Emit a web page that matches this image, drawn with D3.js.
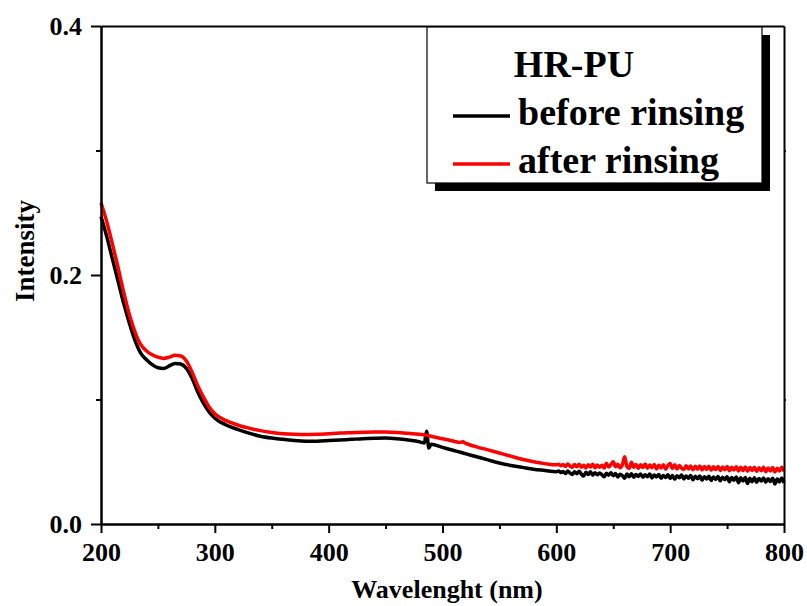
<!DOCTYPE html>
<html>
<head>
<meta charset="utf-8">
<script src="https://cdn.jsdelivr.net/npm/d3@7"></script>
<style>
  html, body { margin: 0; padding: 0; background: #fff; }
  svg text { font-family: "Liberation Serif", "Times New Roman", serif; font-weight: bold; fill: #000; }
</style>
</head>
<body>
<svg id="chart" width="807" height="606"></svg>
<script>
// Wavelength grid (nm)
const wavelengths = [
  200,205,210,215,220,225,230,235,240,245,250,255,260,265,270,275,280,285,290,295,300,
  310,320,330,340,350,360,370,380,390,400,410,420,430,440,450,460,470,480,
  484,486,488,490,500,510,515,518,520,530,540,550,560,570,580,590,600,
  602,604,606,608,610,612,614,616,618,620,622,624,626,628,630,632,634,636,638,640,
  642,644,646,648,650,652,654,656,658,660,662,664,666,668,670,672,674,676,678,680,
  682,684,686,688,690,692,694,696,698,700,702,704,706,708,710,712,714,716,718,720,
  722,724,726,728,730,732,734,736,738,740,742,744,746,748,750,752,754,756,758,760,
  762,764,766,768,770,772,774,776,778,780,782,784,786,788,790,792,794,796,798,800
];

// Intensity before rinsing
const beforeRinsing = [
  0.247,0.231,0.213,0.195,0.177,0.161,0.147,0.137,0.132,0.128,0.1255,0.125,0.127,0.129,0.1285,0.125,0.117,0.106,0.097,0.090,0.085,
  0.0795,0.0760,0.0730,0.0705,0.0690,0.0680,0.0670,0.0665,0.0665,0.0670,0.0675,0.0680,0.0685,0.0688,0.0690,0.0685,0.0675,0.0660,
  0.0650,0.0745,0.0610,0.0640,0.0615,0.0590,0.0578,0.0570,0.0565,0.0540,0.0515,0.0490,0.0470,0.0455,0.0440,0.0430,0.0420,
  0.0425,0.0413,0.0422,0.0405,0.0426,0.0410,0.0398,0.0420,0.0404,0.0423,0.0400,0.0385,0.0415,0.0398,0.0420,0.0392,0.0412,0.0395,0.0410,0.0396,
  0.0380,0.0408,0.0392,0.0412,0.0388,0.0405,0.0378,0.0400,0.0390,0.0368,0.0402,0.0380,0.0404,0.0376,0.0398,0.0382,0.0402,0.0375,0.0395,0.0380,
  0.0402,0.0370,0.0394,0.0378,0.0398,0.0368,0.0390,0.0374,0.0396,0.0366,0.0390,0.0360,0.0388,0.0372,0.0394,0.0362,0.0386,0.0368,0.0390,0.0356,
  0.0384,0.0364,0.0386,0.0352,0.0380,0.0362,0.0384,0.0350,0.0378,0.0358,0.0382,0.0348,0.0376,0.0356,0.0380,0.0340,0.0374,0.0352,0.0378,0.0332,
  0.0372,0.0346,0.0374,0.0325,0.0368,0.0340,0.0372,0.0335,0.0366,0.0345,0.0370,0.0336,0.0364,0.0342,0.0368,0.0322,0.0362,0.0338,0.0370,0.0330
];

// Intensity after rinsing
const afterRinsing = [
  0.258,0.243,0.225,0.206,0.186,0.168,0.154,0.144,0.139,0.136,0.134,0.133,0.134,0.1355,0.135,0.131,0.122,0.111,0.102,0.094,0.0885,
  0.0830,0.0795,0.0770,0.0750,0.0735,0.0725,0.0720,0.0718,0.0720,0.0725,0.0730,0.0733,0.0736,0.0738,0.0738,0.0735,0.0728,0.0720,
  0.0716,0.0714,0.0710,0.0705,0.0685,0.0665,0.0655,0.0660,0.0650,0.0620,0.0595,0.0570,0.0545,0.0520,0.0500,0.0485,0.0475,
  0.0480,0.0468,0.0478,0.0462,0.0482,0.0465,0.0455,0.0478,0.0460,0.0480,0.0456,0.0472,0.0450,0.0476,0.0458,0.0480,0.0452,0.0474,0.0456,0.0472,
  0.0450,0.0488,0.0458,0.0478,0.0500,0.0460,0.0480,0.0452,0.0476,0.0540,0.0462,0.0448,0.0496,0.0456,0.0478,0.0446,0.0476,0.0455,0.0482,0.0448,
  0.0474,0.0452,0.0478,0.0442,0.0472,0.0450,0.0476,0.0440,0.0470,0.0486,0.0446,0.0476,0.0442,0.0470,0.0448,0.0438,0.0468,0.0442,0.0466,0.0436,
  0.0464,0.0440,0.0466,0.0434,0.0462,0.0438,0.0464,0.0432,0.0460,0.0437,0.0462,0.0430,0.0458,0.0436,0.0462,0.0428,0.0456,0.0434,0.0460,0.0426,
  0.0455,0.0430,0.0458,0.0424,0.0453,0.0430,0.0456,0.0422,0.0452,0.0428,0.0455,0.0420,0.0450,0.0426,0.0454,0.0418,0.0448,0.0425,0.0456,0.0422
];

const xMajorTicks = [200, 300, 400, 500, 600, 700, 800];
const xMinorTicks = [250, 350, 450, 550, 650, 750];
const yMajorTicks = [0.0, 0.2, 0.4];
const yMinorTicks = [0.1, 0.3];

const legendTitle = "HR-PU";
const seriesNames = ["before rinsing", "after rinsing"];
const seriesColors = ["#000000", "#ff0000"];

const svg = d3.select("#chart");
const plotLeft = 101, plotRight = 784, plotTop = 26, plotBottom = 524;

const x = d3.scaleLinear().domain([200, 800]).range([plotLeft, plotRight]);
const y = d3.scaleLinear().domain([0, 0.4]).range([plotBottom, plotTop]);

// Spectra
const series = [beforeRinsing, afterRinsing];
const line = d3.line()
  .x((d, i) => x(wavelengths[i]))
  .y(d => y(d))
  .curve(d3.curveMonotoneX);

svg.append("g").selectAll("path")
  .data(series)
  .join("path")
  .attr("d", d => line(d))
  .attr("fill", "none")
  .attr("stroke", (d, i) => seriesColors[i])
  .attr("stroke-width", 3.5)
  .attr("stroke-linejoin", "round");

// Axes
function styleAxis(g) {
  g.select(".domain").attr("stroke", "#000").attr("stroke-width", 2);
  g.selectAll(".tick line").attr("stroke", "#000").attr("stroke-width", 2);
}

const xAxis = svg.append("g")
  .attr("transform", `translate(0,${plotBottom})`)
  .call(d3.axisBottom(x).tickValues(xMajorTicks).tickSize(9).tickSizeOuter(0).tickPadding(10)
    .tickFormat(d3.format("d")));
styleAxis(xAxis);
xAxis.selectAll("text").attr("font-size", 26).attr("font-family", null);

const xMinor = svg.append("g")
  .attr("transform", `translate(0,${plotBottom})`)
  .call(d3.axisBottom(x).tickValues(xMinorTicks).tickSize(5).tickSizeOuter(0).tickFormat(""));
styleAxis(xMinor);

const yAxis = svg.append("g")
  .attr("transform", `translate(${plotLeft},0)`)
  .call(d3.axisLeft(y).tickValues(yMajorTicks).tickSize(10).tickSizeOuter(0).tickPadding(9)
    .tickFormat(d3.format(".1f")));
styleAxis(yAxis);
yAxis.selectAll("text").attr("font-size", 26).attr("font-family", null);

const yMinor = svg.append("g")
  .attr("transform", `translate(${plotLeft},0)`)
  .call(d3.axisLeft(y).tickValues(yMinorTicks).tickSize(5).tickSizeOuter(0).tickFormat(""));
styleAxis(yMinor);

// Top and right frame lines
svg.append("g").attr("transform", `translate(0,${plotTop})`)
  .call(d3.axisTop(x).tickValues([]).tickSizeOuter(0)).call(styleAxis);
svg.append("g").attr("transform", `translate(${plotRight},0)`)
  .call(d3.axisRight(y).tickValues(yMinorTicks).tickSize(2).tickSizeOuter(0).tickFormat("")).call(styleAxis);

// Axis titles
svg.append("text")
  .attr("x", 447).attr("y", 598)
  .attr("text-anchor", "middle")
  .attr("font-size", 26)
  .text("Wavelenght (nm)");

svg.append("text")
  .attr("transform", "translate(34,251) rotate(-90)")
  .attr("text-anchor", "middle")
  .attr("font-size", 27)
  .text("Intensity");

// Legend with drop shadow
const lg = svg.append("g");
lg.append("rect").attr("x", 435).attr("y", 35).attr("width", 335).attr("height", 156).attr("fill", "#000");
lg.append("rect").attr("x", 427).attr("y", 27).attr("width", 335).attr("height", 156)
  .attr("fill", "#fff").attr("stroke", "#000").attr("stroke-width", 1.2);

lg.append("text").attr("x", 574).attr("y", 77).attr("text-anchor", "middle")
  .attr("font-size", 38).text(legendTitle);

const rowY = [116, 164];
seriesNames.forEach((name, i) => {
  lg.append("line").attr("x1", 453).attr("x2", 510).attr("y1", rowY[i]).attr("y2", rowY[i])
    .attr("stroke", seriesColors[i]).attr("stroke-width", 3.5);
  lg.append("text").attr("x", 518).attr("y", rowY[i] + 9)
    .attr("font-size", 38).text(name);
});
</script>
</body>
</html>
